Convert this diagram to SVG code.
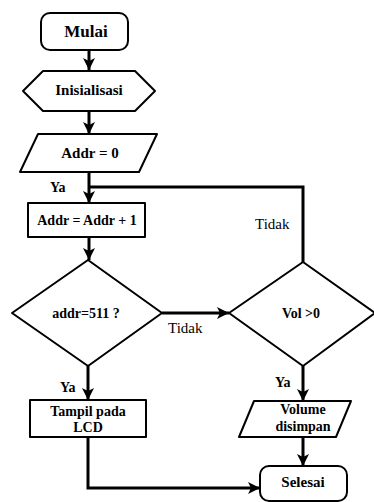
<svg xmlns="http://www.w3.org/2000/svg" width="374" height="502" viewBox="0 0 374 502">
  <style>
    .shape { fill: #fff; stroke: #000; stroke-width: 2; stroke-linejoin: round; }
    .link { fill: none; stroke: #000; stroke-width: 3; }
    text { font-family: 'Liberation Serif', 'DejaVu Serif', serif; fill: #000; }
    .node { font-weight: bold; font-size: 14px; text-anchor: middle; }
    .big { font-size: 15px; }
    .title { font-size: 17px; }
    .lbl { font-size: 15px; }
    .lbl-b { font-weight: bold; font-size: 14px; }
  </style>
  <defs>
    <marker id="arrow" markerWidth="12" markerHeight="12" refX="10" refY="5" orient="auto" markerUnits="userSpaceOnUse" viewBox="0 0 10 10">
      <path d="M0,0 L10,5 L0,10 L2.5,5 z" fill="#000"/>
    </marker>
  </defs>
  <rect width="374" height="502" fill="#fff"/>

  <!-- connectors -->
  <g id="connectors">
    <line class="link" x1="89" y1="50" x2="89" y2="70" marker-end="url(#arrow)"/>
    <line class="link" x1="89" y1="111" x2="89" y2="134" marker-end="url(#arrow)"/>
    <line class="link" x1="89" y1="172" x2="89" y2="203" marker-end="url(#arrow)"/>
    <polyline class="link" points="303,262 303,187 89,187"/>
    <line class="link" x1="89" y1="237" x2="89" y2="260" marker-end="url(#arrow)"/>
    <line class="link" x1="162" y1="313" x2="229" y2="313" marker-end="url(#arrow)"/>
    <line class="link" x1="88" y1="366" x2="88" y2="400" marker-end="url(#arrow)"/>
    <line class="link" x1="303" y1="366" x2="303" y2="401" marker-end="url(#arrow)"/>
    <polyline class="link" points="88,437 88,488 260,488" marker-end="url(#arrow)"/>
    <line class="link" x1="303" y1="437" x2="303" y2="466" marker-end="url(#arrow)"/>
    <text class="lbl-b" x="50" y="192">Ya</text>
    <text class="lbl" x="255" y="229">Tidak</text>
    <text class="lbl" x="168" y="333">Tidak</text>
    <text class="lbl-b" x="60" y="392">Ya</text>
    <text class="lbl-b" x="275" y="387">Ya</text>
  </g>

  <g id="mulai">
    <rect class="shape" x="41" y="13" width="87" height="37" rx="9"/>
    <text class="node title" x="86" y="37">Mulai</text>
  </g>
  <g id="inisialisasi">
    <polygon class="shape" points="23,91 43,71 135,71 155,91 135,111 43,111"/>
    <text class="node big" x="89" y="95">Inisialisasi</text>
  </g>
  <g id="addr-init">
    <polygon class="shape" points="38,134 157,134 139,172 20,172"/>
    <text class="node big" x="90" y="158">Addr = 0</text>
  </g>
  <g id="addr-inc">
    <rect class="shape" x="28" y="203" width="117" height="34"/>
    <text class="node" x="87" y="225">Addr = Addr + 1</text>
  </g>
  <g id="cek-addr">
    <polygon class="shape" points="88,260 162,313 88,366 12,313"/>
    <text class="node" x="86" y="318">addr=511 ?</text>
  </g>
  <g id="cek-vol">
    <polygon class="shape" points="303,262 375,313 303,366 229,313"/>
    <text class="node" x="301" y="318">Vol &gt;0</text>
  </g>
  <g id="tampil">
    <rect class="shape" x="30" y="400" width="116" height="37"/>
    <text class="node" x="88" y="416">Tampil pada</text>
    <text class="node" x="88" y="432">LCD</text>
  </g>
  <g id="simpan">
    <polygon class="shape" points="254,401 351,401 336,437 239,437"/>
    <text class="node" x="303" y="414">Volume</text>
    <text class="node" x="303" y="431">disimpan</text>
  </g>
  <g id="selesai">
    <rect class="shape" x="260" y="466" width="87" height="35" rx="9"/>
    <text class="node big" x="303" y="487">Selesai</text>
  </g>
</svg>
